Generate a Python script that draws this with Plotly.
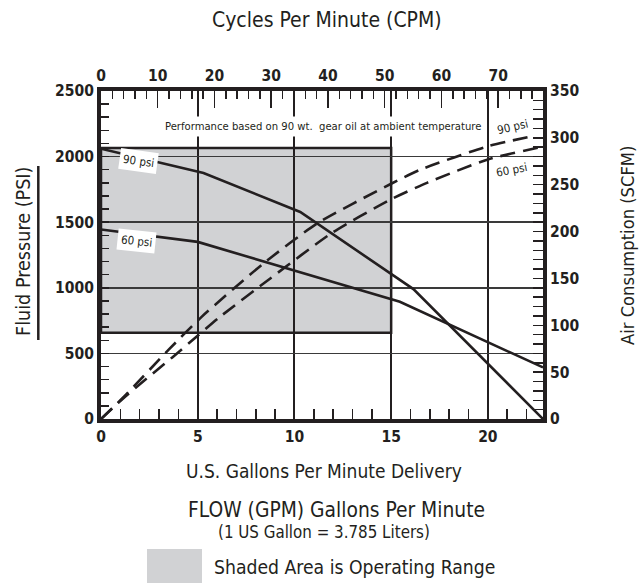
import plotly.graph_objects as go

# ---------------- data ----------------
gpm_90_solid = [0, 5.3, 10.3, 16.15, 22.85]
psi_90_solid = [2060, 1875, 1578, 990, 0]

gpm_60_solid = [0, 5.0, 15.45, 22.85]
psi_60_solid = [1445, 1350, 893, 393]

gpm_90_air = [0, 1.2, 3.5, 5.2, 8.4, 11.2, 15.0, 16.5, 20.0, 22.35]
scfm_90_air = [0, 24, 74, 109, 166, 209, 251, 266, 291, 302]

gpm_60_air = [0, 1.2, 3.7, 4.95, 6.15, 8.75, 11.9, 14.95, 16.85, 20.0, 22.7]
scfm_60_air = [0, 23, 66, 88, 109, 150, 198, 234, 252, 277, 290]

operating_gpm = [0, 15]
operating_psi = [657, 2065]

gpm_range = [0, 22.85]
cpm_range = [0, 77.9]
psi_range = [0, 2500]
scfm_range = [0, 350]

gpm_ticks = [0, 5, 10, 15, 20]
cpm_ticks = [0, 10, 20, 30, 40, 50, 60, 70]
psi_ticks = [0, 500, 1000, 1500, 2000, 2500]
scfm_ticks = [0, 50, 100, 150, 200, 250, 300, 350]

# ---------------- layout helpers ----------------
W, H = 642, 583
L, R, T, B = 101, 543, 91, 419
FONT = "DejaVu Sans Condensed, Liberation Sans Narrow, Arial Narrow, sans-serif"
INK = "#231f20"
GRAY = "#d1d2d4"


def px(x):
    return (x - L) / (R - L)


def py(y):
    return (B - y) / (B - T)


fig = go.Figure()

line_solid = dict(color=INK, width=2.6)
line_dash = dict(color=INK, width=2.6, dash="15px,8px")

fig.add_trace(go.Scatter(x=gpm_90_solid, y=psi_90_solid, mode="lines",
                         line=line_solid, xaxis="x", yaxis="y", hoverinfo="skip"))
fig.add_trace(go.Scatter(x=gpm_60_solid, y=psi_60_solid, mode="lines",
                         line=line_solid, xaxis="x", yaxis="y", hoverinfo="skip"))
fig.add_trace(go.Scatter(x=gpm_90_air, y=scfm_90_air, mode="lines",
                         line=dict(shape="spline", smoothing=0.6, **line_dash),
                         xaxis="x", yaxis="y2", hoverinfo="skip"))
fig.add_trace(go.Scatter(x=gpm_60_air, y=scfm_60_air, mode="lines",
                         line=dict(shape="spline", smoothing=0.6, **line_dash),
                         xaxis="x", yaxis="y2", hoverinfo="skip"))
# invisible trace to bind the top (CPM) axis
fig.add_trace(go.Scatter(x=[cpm_range[0]], y=[0], mode="markers",
                         marker=dict(opacity=0), xaxis="x2", yaxis="y",
                         hoverinfo="skip"))

# operating range rectangle
fig.add_shape(type="rect", xref="x", yref="y",
              x0=operating_gpm[0], x1=operating_gpm[1],
              y0=operating_psi[0], y1=operating_psi[1],
              fillcolor=GRAY, line=dict(color=INK, width=2.5), layer="below")

tick_font = dict(family=FONT, size=15.5, color=INK, weight="bold")

fig.update_layout(
    width=W, height=H, autosize=False,
    margin=dict(l=L, r=W - R, t=T, b=H - B, pad=0),
    paper_bgcolor="white", plot_bgcolor="white",
    showlegend=False,
    font=dict(family=FONT, color=INK),
    xaxis=dict(range=gpm_range, tickvals=gpm_ticks, side="bottom",
               showline=True, linewidth=4, linecolor=INK, mirror=False,
               ticks="inside", ticklen=10, tickwidth=1.5, tickcolor=INK,
               showgrid=True, gridcolor=INK, gridwidth=2,
               zeroline=False, tickfont=tick_font,
               minor=dict(dtick=1, ticks="inside", ticklen=10, tickwidth=1.5,
                          tickcolor=INK, showgrid=False),
               fixedrange=True),
    xaxis2=dict(range=cpm_range, tickvals=cpm_ticks, side="top",
                overlaying="x", anchor="y",
                showline=True, linewidth=4, linecolor=INK,
                ticks="inside", ticklen=17, tickwidth=1.5, tickcolor=INK,
                showgrid=False, zeroline=False, tickfont=tick_font,
                minor=dict(dtick=2, ticks="inside", ticklen=8, tickwidth=1.5,
                           tickcolor=INK, showgrid=False),
                fixedrange=True),
    yaxis=dict(range=psi_range, tickvals=psi_ticks,
               showline=True, linewidth=4, linecolor=INK,
               ticks="inside", ticklen=8, tickwidth=1.5, tickcolor=INK,
               showgrid=True, gridcolor="#3a3a3a", gridwidth=1.5,
               zeroline=False, tickfont=tick_font,
               minor=dict(dtick=100, ticks="inside", ticklen=8, tickwidth=1.5,
                          tickcolor=INK, showgrid=False),
               fixedrange=True),
    yaxis2=dict(range=scfm_range, tickvals=scfm_ticks, side="right",
                overlaying="y", anchor="x",
                showline=True, linewidth=4, linecolor=INK,
                ticks="inside", ticklen=10, tickwidth=1.5, tickcolor=INK,
                showgrid=False, zeroline=False, tickfont=tick_font,
                minor=dict(dtick=10, ticks="inside", ticklen=10, tickwidth=1.5,
                           tickcolor=INK, showgrid=False),
                fixedrange=True),
)

ann = []


def text(x, y, s, size, angle=0, bg=None, pad=1):
    d = dict(xref="paper", yref="paper", x=px(x), y=py(y), text=s,
             showarrow=False, textangle=angle,
             font=dict(family=FONT, size=size, color=INK),
             xanchor="center", yanchor="middle", borderpad=pad)
    if bg:
        d["bgcolor"] = bg
    ann.append(d)


text(326.7, 20, "Cycles Per Minute (CPM)", 21)
text(323, 126, "Performance based on 90 wt.&nbsp; gear oil at ambient temperature",
     11.2, bg="white", pad=3)
text(138, 161, "90 psi", 11.5, angle=8, bg="white", pad=3)
text(136, 241, "60 psi", 11.5, angle=6, bg="white", pad=3)
text(512, 127, "90 psi", 11.5, angle=-13)
text(511, 170, "60 psi", 11.5, angle=-11)
text(23, 252, "Fluid Pressure (PSI)", 19.6, angle=-90)
text(627, 246, "Air Consumption (SCFM)", 18.2, angle=-90)
text(324, 471, "U.S. Gallons Per Minute Delivery", 19)
text(336.5, 510, "FLOW (GPM) Gallons Per Minute", 20.8)
text(324, 532, "(1 US Gallon = 3.785 Liters)", 16.8)
text(354, 567, "Shaded Area is Operating Range", 19.2)
fig.update_layout(annotations=ann)

# underline of left title
fig.add_shape(type="line", xref="paper", yref="paper",
              x0=px(38.3), x1=px(38.3), y0=py(166), y1=py(340),
              line=dict(color=INK, width=2.5))
# legend swatch
fig.add_shape(type="rect", xref="paper", yref="paper",
              x0=px(147), x1=px(202), y0=py(549), y1=py(583),
              fillcolor=GRAY, line=dict(width=0))

fig.write_html("out.html",
               config={"displayModeBar": False, "staticPlot": True},
               post_script="document.body.style.margin='0';"
                           "document.body.style.padding='0';")
